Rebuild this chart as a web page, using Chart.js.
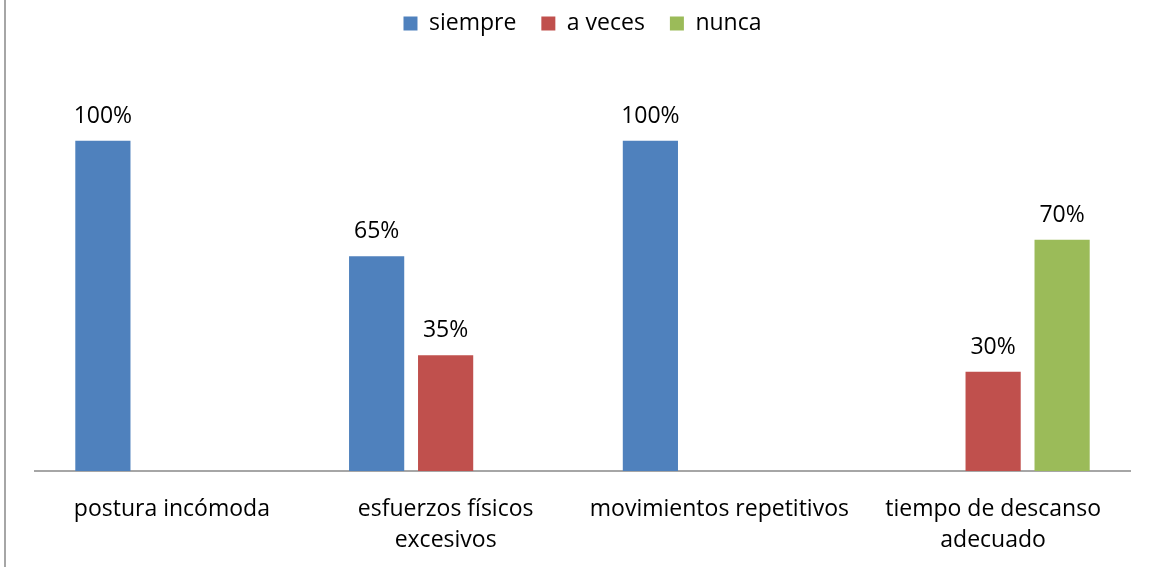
<!DOCTYPE html>
<html>
<head>
<meta charset="utf-8">
<script src="https://cdn.jsdelivr.net/npm/chart.js@4"></script>
<style>
  html, body { margin: 0; padding: 0; background: #fff; }
  #wrap { position: relative; width: 1151px; height: 567px; }
  #frame { position: absolute; left: 4px; top: 0; width: 2px; height: 567px; background: #a6a6a6; }
  canvas { position: absolute; left: 0; top: 0; }
</style>
</head>
<body>
<div id="wrap">
  <canvas id="chart" width="1151" height="567"></canvas>
  <div id="frame"></div>
</div>
<script>
// Categories (multi-line labels) and series values in percent
const categories = [
  'postura incómoda',
  ['esfuerzos físicos', 'excesivos'],
  'movimientos repetitivos',
  ['tiempo de descanso', 'adecuado']
];
const siempre = [100, 65, 100, null];
const aVeces  = [null, 35, null, 30];
const nunca   = [null, null, null, 70];

const seriesNames  = ['siempre', 'a veces', 'nunca'];
const seriesColors = ['#4F81BD', '#C0504D', '#9BBB59'];

const FONT = '"Open Sans", sans-serif';
const FONT_SIZE = 23;

// Writes each bar's value as a percentage just above it
const valueLabels = {
  id: 'valueLabels',
  afterDatasetsDraw(chart) {
    const ctx = chart.ctx;
    ctx.save();
    ctx.font = FONT_SIZE + 'px ' + FONT;
    ctx.fillStyle = '#000';
    ctx.textAlign = 'center';
    ctx.textBaseline = 'alphabetic';
    chart.data.datasets.forEach((ds, i) => {
      const meta = chart.getDatasetMeta(i);
      meta.data.forEach((bar, j) => {
        const v = ds.data[j];
        if (v === null || v === undefined) return;
        ctx.fillText(v + '%', bar.x, bar.y - 18);
      });
    });
    ctx.restore();
  }
};

new Chart(document.getElementById('chart'), {
  type: 'bar',
  data: {
    labels: categories,
    datasets: [siempre, aVeces, nunca].map((d, i) => ({
      label: seriesNames[i],
      data: d,
      backgroundColor: seriesColors[i],
      borderWidth: 0,
      categoryPercentage: 0.756,
      barPercentage: 0.8
    }))
  },
  options: {
    responsive: false,
    animation: false,
    layout: { padding: { left: 35, right: 21, top: -13, bottom: -12 } },
    plugins: {
      legend: {
        position: 'top',
        labels: {
          font: { family: FONT, size: FONT_SIZE },
          color: '#000',
          boxWidth: 14,
          boxHeight: 14,
          padding: 25
        }
      },
      tooltip: { enabled: false }
    },
    scales: {
      x: {
        grid: { display: false, drawTicks: false },
        border: { display: true, color: '#a6a6a6', width: 2 },
        ticks: {
          font: { family: FONT, size: FONT_SIZE, lineHeight: 1.35 },
          color: '#000',
          padding: 23,
          maxRotation: 0,
          autoSkip: false
        }
      },
      y: {
        display: false,
        min: 0,
        max: 129
      }
    }
  },
  plugins: [valueLabels]
});
</script>
</body>
</html>
